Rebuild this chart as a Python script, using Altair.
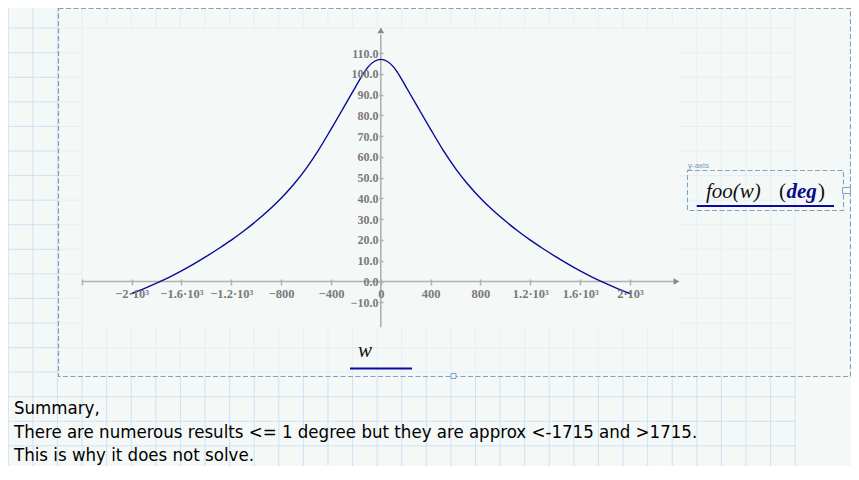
import altair as alt
import pandas as pd

# ---- data ----
w_vals = [-2000, -1900, -1800, -1700, -1600, -1500, -1400, -1300, -1200, -1100,
          -1000, -900, -800, -700, -600, -500, -400, -300, -200, -150, -100, -50,
          0, 50, 100, 150, 200, 300, 400, 500, 600, 700, 800, 900, 1000, 1100,
          1200, 1300, 1400, 1500, 1600, 1700, 1800, 1900, 2000]
foo_vals = [-5.8, -3.4, -0.8, 2.0, 5.1, 8.5, 12.1, 15.9, 19.9, 24.3,
            29.1, 34.3, 40.1, 46.7, 54.4, 63.3, 73.3, 83.6, 94.0, 99.2, 103.5, 106.1,
            107.0, 106.1, 103.5, 99.2, 94.0, 83.6, 73.3, 63.3, 54.4, 46.7, 40.1, 34.3, 29.1, 24.3,
            19.9, 15.9, 12.1, 8.5, 5.1, 2.0, -0.8, -3.4, -5.8]

x_ticks = [-2400, -2000, -1600, -1200, -800, -400, 0, 400, 800, 1200, 1600, 2000]
x_tick_labels = ["", "−2·10³", "−1.6·10³", "−1.2·10³", "−800", "−400", "0",
                 "400", "800", "1.2·10³", "1.6·10³", "2·10³"]
y_ticks = [-10, 0, 10, 20, 30, 40, 50, 60, 70, 80, 90, 100, 110]

x_axis_extent = [-2400, 2360]
y_axis_extent = [-22, 119]

summary_lines = ["Summary,",
                 "There are numerous results <= 1 degree but they are approx <-1715 and >1715.",
                 "This is why it does not solve."]

# ---- layout / style ----
W, H = 843, 458
BG = "#f4f8f6"
GRID = "#cfe2f4"
DASH = "#7fa3c0"
AXIS_GRAY = "#b0b0b0"
LABEL_GRAY = "#7a7a7a"
CURVE = "#0a0a96"
UL = "#0a0aa0"

xs = alt.Scale(domain=[-2992, 3773.6], nice=False, zero=False)
ys = alt.Scale(domain=[-88.87, 131.74], nice=False, zero=False)

label_expr = "[" + ",".join("'%s'" % s for s in x_tick_labels) + "][indexof([" + \
    ",".join(str(v) for v in x_ticks) + "], datum.value)]"

xa = alt.Axis(values=x_ticks, labelExpr=label_expr, orient="bottom", offset=-187,
              domain=False, grid=False, tickSize=6, tickColor=AXIS_GRAY, tickWidth=1.5,
              labelFont="Liberation Serif", labelFontWeight="bold", labelFontSize=12.5,
              labelColor=LABEL_GRAY, labelPadding=2, title=None, zindex=1,
              labelOverlap=False, labelFlush=False)
ya = alt.Axis(values=y_ticks, format=".1f", orient="left", offset=-375,
              domain=False, grid=False, tickSize=4, tickColor=AXIS_GRAY, tickWidth=1.5,
              labelFont="Liberation Serif", labelFontWeight="bold", labelFontSize=12,
              labelColor=LABEL_GRAY, labelPadding=1, title=None, zindex=1,
              labelOverlap=False, labelFlush=False)

X = lambda f: alt.X(f, type="quantitative", scale=xs, axis=xa)
Y = lambda f: alt.Y(f, type="quantitative", scale=ys, axis=ya)

curve_df = pd.DataFrame({"w": w_vals, "v": foo_vals})
curve = alt.Chart(curve_df).mark_line(color=CURVE, strokeWidth=1.4, interpolate="monotone").encode(
    x=X("w"), y=Y("v"))

xline = alt.Chart(pd.DataFrame({"w": [x_axis_extent[0]], "w2": [x_axis_extent[1]], "v": [0]})).mark_rule(
    color=AXIS_GRAY, strokeWidth=1.6).encode(x=X("w"), x2="w2", y=Y("v"))
yline = alt.Chart(pd.DataFrame({"w": [0], "v": [y_axis_extent[0]], "v2": [y_axis_extent[1]]})).mark_rule(
    color=AXIS_GRAY, strokeWidth=1.6).encode(x=X("w"), y=Y("v"), y2="v2")
xarrow = alt.Chart(pd.DataFrame({"w": [2373], "v": [0]})).mark_point(
    shape="triangle-right", filled=True, color="#8a8a8a", size=45, opacity=1).encode(x=X("w"), y=Y("v"))
yarrow = alt.Chart(pd.DataFrame({"w": [0], "v": [121.0]})).mark_point(
    shape="triangle-up", filled=True, color="#8a8a8a", size=45, opacity=1).encode(x=X("w"), y=Y("v"))

main = alt.layer(xline, yline, xarrow, yarrow, curve)

# ---- worksheet decorations (pixel positions) ----
one = pd.DataFrame({"a": [0]})
gx = [0.3 + 24.59 * k for k in range(33)]
gy = [-4.4 + 24.57 * k for k in range(1, 19)]

grid_v = alt.Chart(pd.DataFrame({"gx": gx})).mark_rule(color=GRID, strokeWidth=1).encode(
    x=alt.X("gx:Q", scale=None, axis=None), y=alt.value(0), y2=alt.value(H))
grid_h = alt.Chart(pd.DataFrame({"gy": gy})).mark_rule(color=GRID, strokeWidth=1).encode(
    y=alt.Y("gy:Q", scale=None, axis=None), x=alt.value(0), x2=alt.value(787))

region_fade = alt.Chart(one).mark_rect(fill=BG, opacity=0.6).encode(
    x=alt.value(50.5), x2=alt.value(843), y=alt.value(0), y2=alt.value(368))
plot_plain = alt.Chart(one).mark_rect(fill=BG, opacity=1).encode(
    x=alt.value(74.7), x2=alt.value(672), y=alt.value(20.7), y2=alt.value(320))

outer_box = alt.Chart(one).mark_rect(fillOpacity=0, stroke=DASH, strokeWidth=1.2,
                                     strokeDash=[5, 2.5]).encode(
    x=alt.value(50.5), x2=alt.value(842.5), y=alt.value(0.5), y2=alt.value(368.5))
legend_box = alt.Chart(one).mark_rect(fillOpacity=0, stroke=DASH, strokeWidth=1.1,
                                      strokeDash=[5, 2.5]).encode(
    x=alt.value(679.5), x2=alt.value(835.5), y=alt.value(162.5), y2=alt.value(202.5))
handles = alt.Chart(one).mark_rect(fill=BG, stroke=DASH, strokeWidth=1).encode(
    x=alt.value(443), x2=alt.value(448), y=alt.value(365.5), y2=alt.value(370.5))
handle2 = alt.Chart(one).mark_rect(fill=BG, stroke=DASH, strokeWidth=1).encode(
    x=alt.value(834.5), x2=alt.value(842.5), y=alt.value(179.5), y2=alt.value(185.5))


def txt(s, x, y, **kw):
    return alt.Chart(pd.DataFrame({"t": [s]})).mark_text(align="left", baseline="alphabetic", **kw).encode(
        text="t:N", x=alt.value(x), y=alt.value(y))


yaxis_tag = txt("y-axis", 680, 160, font="Liberation Sans", fontSize=8, color="#7096b8")
leg1 = txt("foo(w)", 698, 190, font="Liberation Serif", fontStyle="italic", fontSize=21, color="#111111")
leg2 = txt("(", 771, 190, font="Liberation Serif", fontSize=21, color="#111111")
leg3 = txt("deg", 778.5, 190, font="Liberation Serif", fontStyle="italic", fontWeight="bold",
           fontSize=21, color="#0a0a8c")
leg4 = txt(")", 810, 190, font="Liberation Serif", fontSize=21, color="#111111")
leg_ul = alt.Chart(one).mark_rule(color=UL, strokeWidth=2).encode(
    x=alt.value(688.7), x2=alt.value(826), y=alt.value(198))
xlab = txt("w", 350, 349, font="Liberation Serif", fontStyle="italic", fontSize=21, color="#111111")
xlab_ul = alt.Chart(one).mark_rule(color=UL, strokeWidth=2).encode(
    x=alt.value(342), x2=alt.value(404), y=alt.value(360.5))

summary = [txt(s, 6, yb, font="DejaVu Sans Condensed", fontSize=18.5, color="#000000")
           for s, yb in zip(summary_lines, [406, 429.5, 453])]

chart = alt.layer(
    grid_v, grid_h, region_fade, plot_plain, main,
    outer_box, legend_box, handles, handle2, yaxis_tag,
    leg1, leg2, leg3, leg4, leg_ul, xlab, xlab_ul, *summary
).resolve_scale(x="independent", y="independent").properties(
    width=W, height=H, autosize=alt.AutoSizeParams(type="none"), padding=0, background=BG
).configure_view(stroke=None)

chart.save("out.html", embed_options={"renderer": "svg", "actions": False})
